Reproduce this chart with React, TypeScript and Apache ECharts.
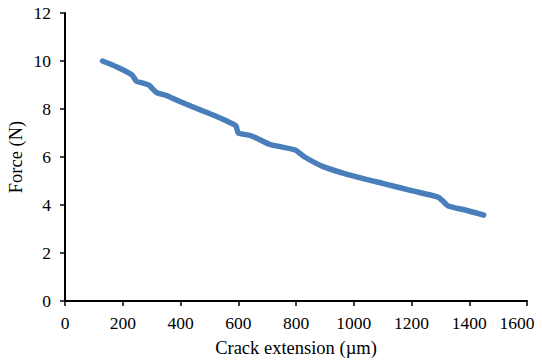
import React, { useEffect, useRef } from "react";
import * as echarts from "echarts";

// Crack extension (µm) and measured force (N)
const crackExtension = [
  130, 180, 232, 248, 270, 290, 318, 350, 400, 450, 513, 560, 592, 600, 640, 670,
  710, 745, 797, 830, 894, 977, 1100, 1200, 1292, 1310, 1327, 1390, 1450,
];
const force = [
  10.0, 9.75, 9.42, 9.15, 9.08, 9.0, 8.68, 8.57, 8.3, 8.05, 7.75, 7.5, 7.3, 7.0, 6.9, 6.75,
  6.52, 6.43, 6.29, 6.0, 5.6, 5.28, 4.9, 4.6, 4.33, 4.15, 3.96, 3.78, 3.58,
];

const X_MAX = 1600;
const FONT = "Liberation Serif";

export default function App() {
  const ref = useRef<HTMLDivElement>(null);

  useEffect(() => {
    if (!ref.current) return;
    const chart = echarts.init(ref.current, null, { renderer: "svg" });
    const axisCommon = {
      axisLine: { show: true, lineStyle: { color: "#000", width: 2 } },
      axisTick: { show: true, length: 5, lineStyle: { color: "#000", width: 1.5 } },
      splitLine: { show: false },
      nameTextStyle: { color: "#000", fontFamily: FONT, fontSize: 18.5 },
      nameLocation: "middle" as const,
      nameMoveOverlap: false,
    };
    const label = (margin: number) => ({
      color: "#000",
      fontFamily: FONT,
      fontSize: 17.5,
      margin,
      formatter: (v: number) => String(v),
    });
    chart.setOption({
      animation: false,
      backgroundColor: "#fff",
      grid: {
        left: 65,
        right: 15,
        top: 13,
        bottom: 61,
        containLabel: false,
        outerBoundsMode: "none",
      },
      xAxis: {
        type: "value",
        min: 0,
        max: X_MAX,
        interval: 200,
        name: "Crack extension (µm)",
        nameGap: 37,
        ...axisCommon,
        axisLabel: {
          ...label(13),
          // last label is nudged left so it stays inside the canvas
          formatter: (v: number) => (v === X_MAX ? `{last|${v}}` : String(v)),
          rich: {
            last: { fontFamily: FONT, fontSize: 17.5, color: "#000", padding: [0, 20, 0, 0] },
          },
        },
      },
      yAxis: {
        type: "value",
        min: 0,
        max: 12,
        interval: 2,
        name: "Force (N)",
        nameGap: 40,
        nameRotate: 90,
        ...axisCommon,
        axisLabel: label(14),
      },
      series: [
        {
          type: "line",
          data: crackExtension.map((x, i) => [x, force[i]]),
          showSymbol: false,
          smooth: 0.2,
          lineStyle: { color: "#4A7EBB", width: 5.5, cap: "round", join: "round" },
        },
      ],
    });
    return () => chart.dispose();
  }, []);

  return (
    <div
      ref={ref}
      style={{ position: "fixed", left: 0, top: 0, width: 542, height: 362, overflow: "hidden" }}
    />
  );
}
